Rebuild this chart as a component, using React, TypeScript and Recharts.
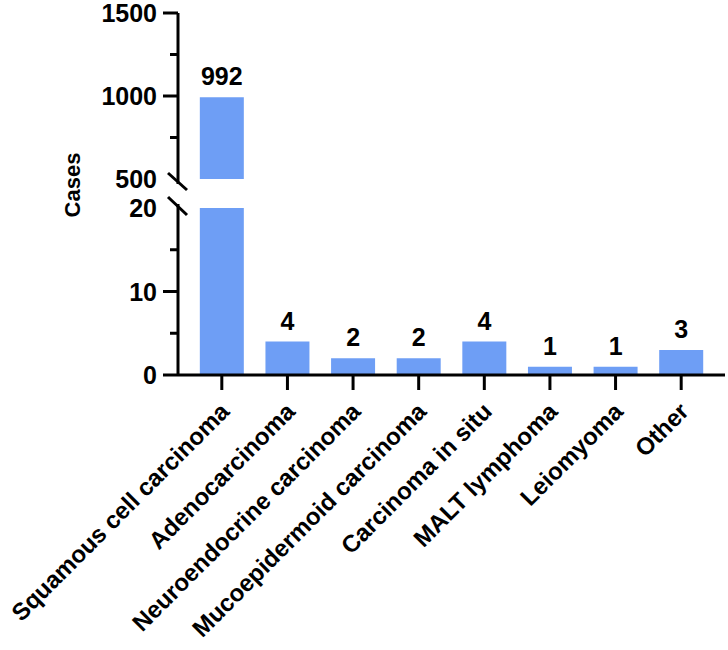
import React from 'react';
import { BarChart, Bar, XAxis, YAxis, LabelList } from 'recharts';

const categories = [
  'Squamous cell carcinoma',
  'Adenocarcinoma',
  'Neuroendocrine carcinoma',
  'Mucoepidermoid carcinoma',
  'Carcinoma in situ',
  'MALT lymphoma',
  'Leiomyoma',
  'Other',
];
const cases = [992, 4, 2, 2, 4, 1, 1, 3];

const topDomain = [500, 1500];
const topTicks = [500, 750, 1000, 1250, 1500];
const topLabels = [500, 1000, 1500];

const bottomDomain = [0, 20];
const bottomTicks = [0, 5, 10, 15, 20];
const bottomLabels = [0, 10, 20];

const BAR_COLOR = '#6e9ef5';
const FONT = '"Liberation Sans", Arial, Helvetica, sans-serif';

const topData = categories.map((name, i) => ({
  name,
  value: cases[i] >= topDomain[0] ? cases[i] : null,
}));
const bottomData = categories.map((name, i) => ({ name, value: cases[i] }));

// y tick: major ticks get a label, minor ones only a short line.
// the break value draws the slash instead of a tick
const makeYTick = (labels: number[], breakValue: number, breakDir: 'down' | 'up') => (props: any) => {
  const { x, y, payload } = props;
  const v = payload.value;
  const isMajor = labels.includes(v);
  const label = (
    <text x={x - 21} y={y} dy="0.36em" textAnchor="end" fontSize={25} fontWeight="bold" fontFamily={FONT} fill="#000">
      {v}
    </text>
  );
  if (v === breakValue) {
    return (
      <g>
        {breakDir === 'down' ? (
          <>
            <line x1={x} y1={y} x2={x} y2={y + 5} stroke="#000" strokeWidth={3} />
            <line x1={x - 10} y1={y - 6} x2={x + 9} y2={y + 11} stroke="#000" strokeWidth={3} />
          </>
        ) : (
          <>
            <line x1={x} y1={y - 4} x2={x} y2={y} stroke="#000" strokeWidth={3} />
            <line x1={x - 10} y1={y - 11} x2={x + 9} y2={y + 7} stroke="#000" strokeWidth={3} />
          </>
        )}
        {label}
      </g>
    );
  }
  return (
    <g>
      <line x1={x - (isMajor ? 15 : 8)} y1={y} x2={x} y2={y} stroke="#000" strokeWidth={3} />
      {isMajor && label}
    </g>
  );
};

const XTick = (props: any) => {
  const { x, y, payload } = props;
  return (
    <g>
      <line x1={x} y1={y} x2={x} y2={y + 15} stroke="#000" strokeWidth={3} />
      <text
        x={x + 9}
        y={y + 38}
        textAnchor="end"
        transform={`rotate(-45, ${x + 9}, ${y + 38})`}
        fontSize={24}
        fontWeight="bold"
        fontFamily={FONT}
        fill="#000"
      >
        {payload.value}
      </text>
    </g>
  );
};

const makeValueLabel = (max: number) => (props: any) => {
  const { x, y, width, value } = props;
  if (value == null || value > max) return null;
  return (
    <text x={x + width / 2} y={y - 12} textAnchor="middle" fontSize={25} fontWeight="bold" fontFamily={FONT} fill="#000">
      {value}
    </text>
  );
};

const axisStyle = { stroke: '#000', strokeWidth: 3 };

export default function App() {
  return (
    <div style={{ position: 'absolute', left: 0, top: 0, width: 728, height: 650, background: '#fff' }}>
      <div
        style={{
          position: 'absolute',
          left: 73,
          top: 185,
          transform: 'translate(-50%, -50%) rotate(-90deg)',
          fontFamily: FONT,
          fontWeight: 'bold',
          fontSize: 22,
          whiteSpace: 'nowrap',
        }}
      >
        Cases
      </div>
      <div style={{ position: 'absolute', left: 0, top: 190 }}>
        <BarChart
          width={728}
          height={460}
          data={bottomData}
          margin={{ top: 18, right: 3, left: 0, bottom: 0 }}
          barCategoryGap="16.5%"
        >
          <XAxis
            dataKey="name"
            height={275}
            padding={{ left: 11, right: 11 }}
            axisLine={axisStyle}
            tickLine={false}
            tickSize={0}
            tickMargin={0}
            tick={<XTick />}
            interval={0}
          />
          <YAxis
            width={178}
            domain={bottomDomain}
            ticks={bottomTicks}
            allowDataOverflow
            axisLine={axisStyle}
            tickLine={false}
            tickSize={0}
            tickMargin={0}
            tick={makeYTick(bottomLabels, 20, 'up')}
            interval={0}
          />
          <Bar dataKey="value" fill={BAR_COLOR} isAnimationActive={false}>
            <LabelList dataKey="value" content={makeValueLabel(bottomDomain[1])} />
          </Bar>
        </BarChart>
      </div>
      <div style={{ position: 'absolute', left: 0, top: 0 }}>
        <BarChart
          width={728}
          height={200}
          data={topData}
          margin={{ top: 13, right: 3, left: 0, bottom: 21 }}
          barCategoryGap="16.5%"
        >
          <XAxis dataKey="name" hide padding={{ left: 11, right: 11 }} />
          <YAxis
            width={178}
            domain={topDomain}
            ticks={topTicks}
            allowDataOverflow
            axisLine={axisStyle}
            tickLine={false}
            tickSize={0}
            tickMargin={0}
            tick={makeYTick(topLabels, 500, 'down')}
            interval={0}
          />
          <Bar dataKey="value" fill={BAR_COLOR} isAnimationActive={false}>
            <LabelList dataKey="value" content={makeValueLabel(topDomain[1])} />
          </Bar>
        </BarChart>
      </div>
    </div>
  );
}
